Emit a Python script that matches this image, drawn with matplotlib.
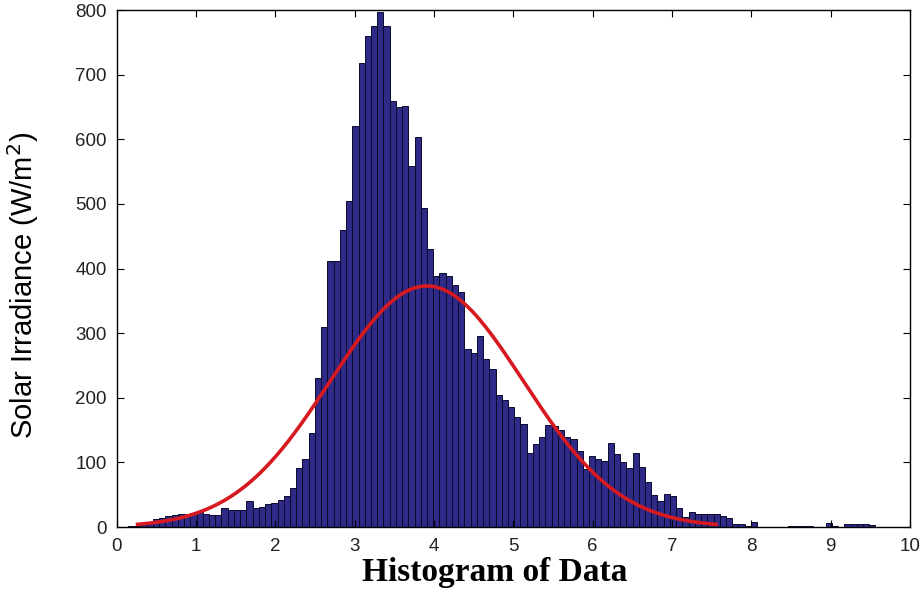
import numpy as np
import matplotlib
matplotlib.use("Agg")
import matplotlib.pyplot as plt

# Histogram bins (left edge of first bin, bin width) and counts
bin_start = 0.145
bin_width = 0.0785
counts = [
    1.5, 2, 5, 6, 13, 14, 17, 18, 20, 20,
    22, 24, 20, 18, 19, 29, 27, 26, 26, 40,
    29, 31, 35, 37, 42, 48, 60, 92, 105, 145,
    230, 310, 412, 412, 460, 505, 620, 718, 760, 775,
    797, 776, 660, 650, 652, 559, 604, 493, 430, 388,
    393, 389, 375, 363, 275, 270, 295, 260, 245, 205,
    197, 185, 171, 159, 115, 128, 140, 158, 157, 150,
    140, 136, 117, 90, 110, 105, 102, 130, 113, 100,
    92, 115, 93, 69, 50, 41, 51, 48, 30, 16,
    24, 20, 20, 20, 20, 17, 14, 4, 5, 2,
    7, 0, 0, 0, 0, 0, 2, 2, 2, 1,
    0, 0, 6, 1, 0, 4, 4, 4, 4, 3,
]

# Normal fit parameters (histfit-style): mean, std, and peak height of fitted curve
fit_mu = 3.91
fit_sigma = 1.215
fit_peak = 373

x_ticks = [0, 1, 2, 3, 4, 5, 6, 7, 8, 9, 10]
y_ticks = [0, 100, 200, 300, 400, 500, 600, 700, 800]

fig = plt.figure(figsize=(9.22, 6.01), dpi=100)
ax = fig.add_axes([0.1264, 0.1231, 0.8606, 0.8602])

counts_arr = np.array(counts, dtype=float)
lefts = bin_start + bin_width * np.arange(len(counts_arr))
ax.bar(lefts, counts_arr, width=bin_width, align='edge',
       color='#2e2a86', edgecolor='#0a0a30', linewidth=0.7)

xs = np.linspace(fit_mu - 3 * fit_sigma, fit_mu + 3 * fit_sigma, 300)
ys = fit_peak * np.exp(-0.5 * ((xs - fit_mu) / fit_sigma) ** 2)
ax.plot(xs, ys, color='#d71920', linewidth=2.6)

ax.set_xlim(0, 10)
ax.set_ylim(0, 800)
ax.set_xticks(x_ticks)
ax.set_yticks(y_ticks)
ax.tick_params(direction='in', top=True, right=True, length=5, width=0.8,
               labelsize=13.5, labelcolor='#222222')
ax.tick_params(axis='y', pad=7)
ax.tick_params(axis='x', pad=8)
for lab in ax.get_xticklabels() + ax.get_yticklabels():
    lab.set_family('Liberation Sans')
for s in ax.spines.values():
    s.set_linewidth(1.0)

ax.set_xlabel('Histogram of Data', family='Liberation Serif', fontweight='bold',
              fontsize=24)
ax.xaxis.set_label_coords(0.476, -0.058)
ax.set_ylabel('Solar Irradiance (W/m$^2$)', family='Liberation Sans',
              fontsize=21)
ax.yaxis.label.set_va('center')
ax.yaxis.label.set_ha('center')
ax.yaxis.set_label_coords(-0.118, 0.468)

fig.savefig('out.png', dpi=100)
